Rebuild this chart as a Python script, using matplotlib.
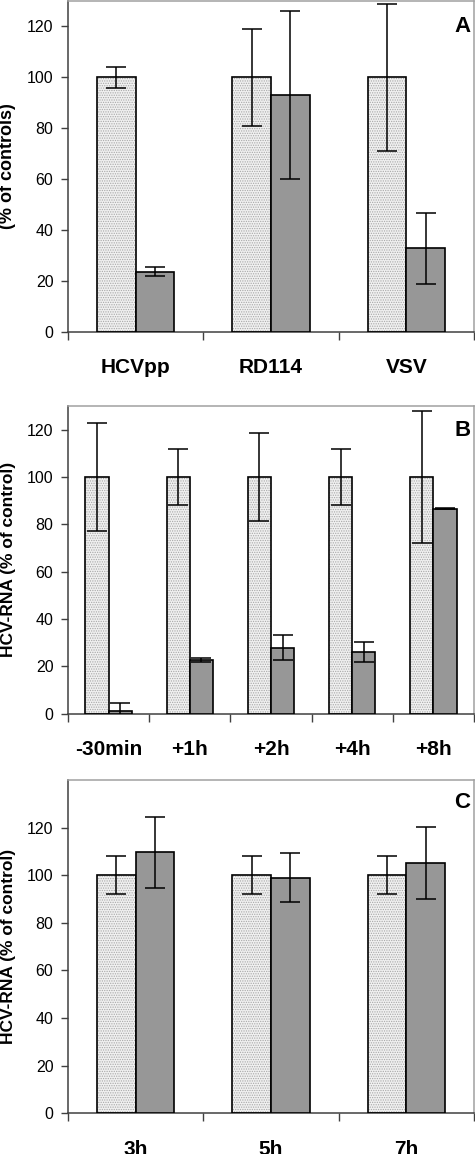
import matplotlib
matplotlib.use("Agg")
import matplotlib.pyplot as plt
import numpy as np

plt.rcParams['font.family'] = ['Liberation Sans', 'DejaVu Sans']
plt.rcParams['hatch.linewidth'] = 0.6

# Panel A
cats_a = ["HCVpp", "RD114", "VSV"]
ctrl_a = [100, 100, 100]
ctrl_a_err = [4, 19, 29]
trt_a = [23.7, 93, 32.8]
trt_a_err = [1.9, 33, 14]

# Panel B
cats_b = ["-30min", "+1h", "+2h", "+4h", "+8h"]
ctrl_b = [100, 100, 100, 100, 100]
ctrl_b_err = [22.7, 12, 18.6, 11.7, 28]
trt_b = [1.2, 22.7, 27.9, 26.1, 86.5]
trt_b_err = [3.3, 0.7, 5.4, 4.3, 0.2]

# Panel C
cats_c = ["3h", "5h", "7h"]
ctrl_c = [100, 100, 100]
ctrl_c_err = [8, 8, 8]
trt_c = [109.6, 99, 105.1]
trt_c_err = [15, 10.2, 15]

W, H = 475, 1154
fig = plt.figure(figsize=(W / 100, H / 100), dpi=100)

def rect(top, bottom, left=68, right=474):
    return [left / W, 1 - bottom / H, (right - left) / W, (bottom - top) / H]

panels = [
    (rect(1, 332), cats_a, ctrl_a, ctrl_a_err, trt_a, trt_a_err, 130, "(% of controls)", "A", 26),
    (rect(406, 713.7), cats_b, ctrl_b, ctrl_b_err, trt_b, trt_b_err, 130, "HCV-RNA (% of control)", "B", 430),
    (rect(780, 1113.3), cats_c, ctrl_c, ctrl_c_err, trt_c, trt_c_err, 140, "HCV-RNA (% of control)", "C", 802),
]

bw = 0.285
for pos, cats, c, ce, t, te, ymax, ylab, letter, ly in panels:
    ax = fig.add_axes(pos)
    x = np.arange(len(cats))
    # light dotted bars
    ax.bar(x - bw / 2, c, bw, facecolor='#f0f0f0', edgecolor='#a8a8a8',
           linewidth=0, hatch='.......', zorder=2)
    ax.bar(x - bw / 2, c, bw, fill=False, edgecolor='black', linewidth=1.2, zorder=3)
    ax.bar(x + bw / 2, t, bw, facecolor='#979797', edgecolor='black', linewidth=1.2, zorder=3)
    ax.errorbar(x - bw / 2, c, yerr=ce, fmt='none', ecolor='black', elinewidth=1.1,
                capsize=7.5, capthick=1.1, zorder=4, clip_on=True)
    ax.errorbar(x + bw / 2, t, yerr=te, fmt='none', ecolor='black', elinewidth=1.1,
                capsize=7.5, capthick=1.1, zorder=4, clip_on=True)
    ax.set_xlim(-0.5, len(cats) - 0.5)
    ax.set_ylim(0, ymax)
    ax.set_yticks(np.arange(0, 121, 20))
    ax.set_xticks(x)
    ax.set_xticklabels(cats, fontsize=15, fontweight='bold')
    ax.set_xticks(np.arange(-0.5, len(cats), 1.0), minor=True)
    ax.tick_params(axis='x', which='major', length=0, pad=19)
    ax.tick_params(axis='x', which='minor', length=6, width=1, color='#404040', direction='out')
    ax.tick_params(axis='y', which='major', length=5, width=1, color='#404040', direction='out',
                   labelsize=11.5, pad=5.5)
    for s in ['left', 'bottom']:
        ax.spines[s].set_color('#404040')
        ax.spines[s].set_linewidth(1.1)
    for s in ['top', 'right']:
        ax.spines[s].set_color('#a0a0a0')
        ax.spines[s].set_linewidth(1.1)
    ax.set_ylabel(ylab, fontsize=13 if letter == 'A' else 12.5, fontweight='bold')
    ax.yaxis.set_label_coords(-0.128, 0.5)
    top_px = (1 - pos[1] - pos[3]) * H
    ax.text(0.971, 1 - (ly - top_px) / (pos[3] * H), letter,
            transform=ax.transAxes, ha='center', va='center', fontsize=16, fontweight='bold')

fig.savefig("out.png", dpi=100)
